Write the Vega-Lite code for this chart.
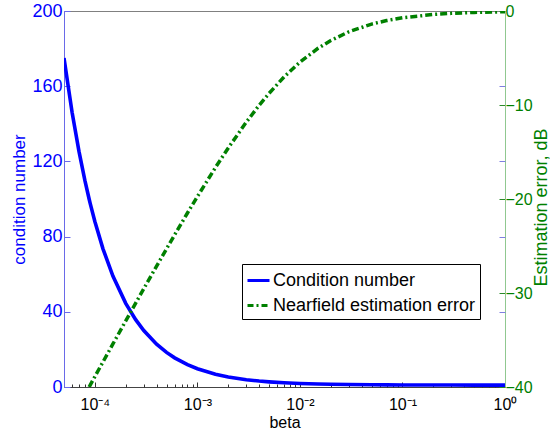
{
  "$schema": "https://vega.github.io/schema/vega-lite/v6.json",
  "width": 441,
  "height": 376,
  "autosize": "none",
  "padding": {"left": 64, "top": 11, "right": 45, "bottom": 44},
  "background": "white",
  "config": {
    "view": {"stroke": "#808080", "strokeWidth": 1},
    "font": "Liberation Sans",
    "axis": {"grid": false, "labelFont": "Liberation Sans", "titleFont": "Liberation Sans", "titleFontWeight": "normal", "labelFontSize": 17, "titleFontSize": 17}
  },
  "data": {
    "values": [
      {"beta": 0.00005, "cond": 175, "err": null},
      {"beta": 0.00006, "cond": 146, "err": null},
      {"beta": 0.00007, "cond": 125.3, "err": null},
      {"beta": 0.00008, "cond": 109.75, "err": null},
      {"beta": 0.0000879, "cond": 100, "err": -40},
      {"beta": 0.00009, "cond": 97.67, "err": -39.8},
      {"beta": 0.0001, "cond": 88, "err": -38.89},
      {"beta": 0.00012, "cond": 73.5, "err": -37.33},
      {"beta": 0.00015, "cond": 59, "err": -35.42},
      {"beta": 0.0002, "cond": 44.5, "err": -32.97},
      {"beta": 0.00025, "cond": 35.8, "err": -31.08},
      {"beta": 0.0003, "cond": 30, "err": -29.54},
      {"beta": 0.0004, "cond": 22.75, "err": -27.14},
      {"beta": 0.0005, "cond": 18.4, "err": -25.3},
      {"beta": 0.0006, "cond": 15.5, "err": -23.81},
      {"beta": 0.0008, "cond": 11.875, "err": -21.49},
      {"beta": 0.001, "cond": 9.7, "err": -19.74},
      {"beta": 0.0015, "cond": 6.8, "err": -16.65},
      {"beta": 0.002, "cond": 5.35, "err": -14.57},
      {"beta": 0.003, "cond": 3.9, "err": -11.82},
      {"beta": 0.004, "cond": 3.175, "err": -10.03},
      {"beta": 0.005, "cond": 2.74, "err": -8.76},
      {"beta": 0.007, "cond": 2.243, "err": -7.02},
      {"beta": 0.01, "cond": 1.87, "err": -5.44},
      {"beta": 0.015, "cond": 1.58, "err": -3.97},
      {"beta": 0.02, "cond": 1.435, "err": -3.14},
      {"beta": 0.03, "cond": 1.29, "err": -2.21},
      {"beta": 0.05, "cond": 1.174, "err": -1.39},
      {"beta": 0.07, "cond": 1.124, "err": -1.02},
      {"beta": 0.1, "cond": 1.087, "err": -0.72},
      {"beta": 0.2, "cond": 1.0435, "err": -0.37},
      {"beta": 0.3, "cond": 1.029, "err": -0.25},
      {"beta": 0.5, "cond": 1.0174, "err": -0.15},
      {"beta": 1, "cond": 1.0087, "err": -0.075}
    ]
  },
  "layer": [
    {
      "mark": {"type": "line", "strokeWidth": 3.6, "clip": true},
      "encoding": {
        "x": {
          "field": "beta", "type": "quantitative",
          "scale": {"type": "log", "domain": [0.00005, 1], "nice": false},
          "axis": {
            "orient": "bottom",
            "values": [0.0001, 0.001, 0.01, 0.1, 1],
            "labelExpr": "'10' + (round(log(datum.value)/LN10) == 0 ? '⁰' : round(log(datum.value)/LN10) == -1 ? '⁻¹' : round(log(datum.value)/LN10) == -2 ? '⁻²' : round(log(datum.value)/LN10) == -3 ? '⁻³' : '⁻⁴')",
            "tickSize": -5,
            "tickColor": "#333333",
            "domainColor": "#444444",
            "labelColor": "#000000",
            "labelFontSize": 16,
            "labelPadding": 14,
            "labelFlush": false,
            "labelOverlap": false,
            "title": "beta",
            "titleColor": "#000000",
            "titleFontSize": 16,
            "titleBaseline": "alphabetic",
            "titleY": 40
          }
        },
        "y": {
          "field": "cond", "type": "quantitative",
          "scale": {"domain": [0, 200], "nice": false, "zero": false},
          "axis": {
            "orient": "left",
            "values": [0, 40, 80, 120, 160, 200],
            "tickSize": -6,
            "tickColor": "#6a6ae8",
            "domainColor": "#6a6ae8",
            "labelColor": "#0000ff",
            "labelFontSize": 18,
            "labelPadding": 8,
            "labelFlush": false,
            "labelOverlap": false,
            "title": "condition number",
            "titleColor": "#0000ff",
            "titleAngle": 270,
            "titleAlign": "center",
            "titleBaseline": "middle",
            "titleX": -45,
            "titleY": 188
          }
        },
        "color": {
          "datum": "Condition number",
          "type": "nominal",
          "scale": {"domain": ["Condition number", "Nearfield estimation error"], "range": ["#0000ff", "#008000"]},
          "legend": {
            "title": null,
            "orient": "none",
            "legendX": 178,
            "legendY": 253,
            "direction": "vertical",
            "strokeColor": "#000000",
            "fillColor": "#ffffff",
            "padding": 4,
            "symbolType": "stroke",
            "symbolSize": 484,
            "symbolStrokeWidth": 3,
            "labelFont": "Liberation Sans",
            "labelFontSize": 18,
            "labelLimit": 400,
            "labelColor": "#000000",
            "labelOffset": 2,
            "rowPadding": 3,
            "encode": {
              "symbols": {
                "update": {
                  "strokeDash": {"signal": "datum.value == 'Nearfield estimation error' ? [6, 3, 2, 3] : [1, 0]"}
                }
              }
            }
          }
        }
      }
    },
    {
      "transform": [{"filter": "datum.err != null"}],
      "mark": {"type": "line", "strokeWidth": 3.5, "strokeDash": [7, 3, 2, 3], "clip": true},
      "encoding": {
        "x": {
          "field": "beta", "type": "quantitative",
          "scale": {"type": "log", "domain": [0.00005, 1], "nice": false},
          "axis": {
            "orient": "bottom",
            "values": [0.00006, 0.00007, 0.00008, 0.00009, 0.0002, 0.0003, 0.0004, 0.0005, 0.0006, 0.0007, 0.0008, 0.0009, 0.002, 0.003, 0.004, 0.005, 0.006, 0.007, 0.008, 0.009, 0.02, 0.03, 0.04, 0.05, 0.06, 0.07, 0.08, 0.09, 0.2, 0.3, 0.4, 0.5, 0.6, 0.7, 0.8, 0.9],
            "tickSize": -3,
            "tickColor": "#333333",
            "labels": false,
            "domain": false,
            "title": null
          }
        },
        "y": {
          "field": "err", "type": "quantitative",
          "scale": {"domain": [-40, 0], "nice": false, "zero": false},
          "axis": {
            "orient": "right",
            "values": [-40, -30, -20, -10, 0],
            "tickSize": -6,
            "tickColor": "#2a8a2a",
            "domainColor": "#90c890",
            "labelColor": "#008000",
            "labelFontSize": 16,
            "labelPadding": 6,
            "labelFlush": false,
            "labelOverlap": false,
            "title": "Estimation error, dB",
            "titleColor": "#008000",
            "titleFontSize": 18,
            "titleAngle": 270,
            "titleAlign": "center",
            "titleBaseline": "middle",
            "titleX": 36,
            "titleY": 196
          }
        },
        "color": {"datum": "Nearfield estimation error", "type": "nominal"}
      }
    },
    {
      "mark": {"type": "line", "opacity": 0},
      "encoding": {
        "x": {"field": "beta", "type": "quantitative", "scale": {"type": "log", "domain": [0.00005, 1], "nice": false}, "axis": null},
        "y": {
          "field": "cond", "type": "quantitative",
          "scale": {"domain": [0, 200], "nice": false, "zero": false},
          "axis": {
            "orient": "right",
            "values": [40, 80, 120, 160],
            "tickSize": -6,
            "tickColor": "#8080e0",
            "labels": false,
            "domain": false,
            "title": null
          }
        }
      }
    }
  ],
  "resolve": {
    "scale": {"y": "independent", "x": "shared", "color": "shared"},
    "axis": {"y": "independent", "x": "independent"}
  }
}
